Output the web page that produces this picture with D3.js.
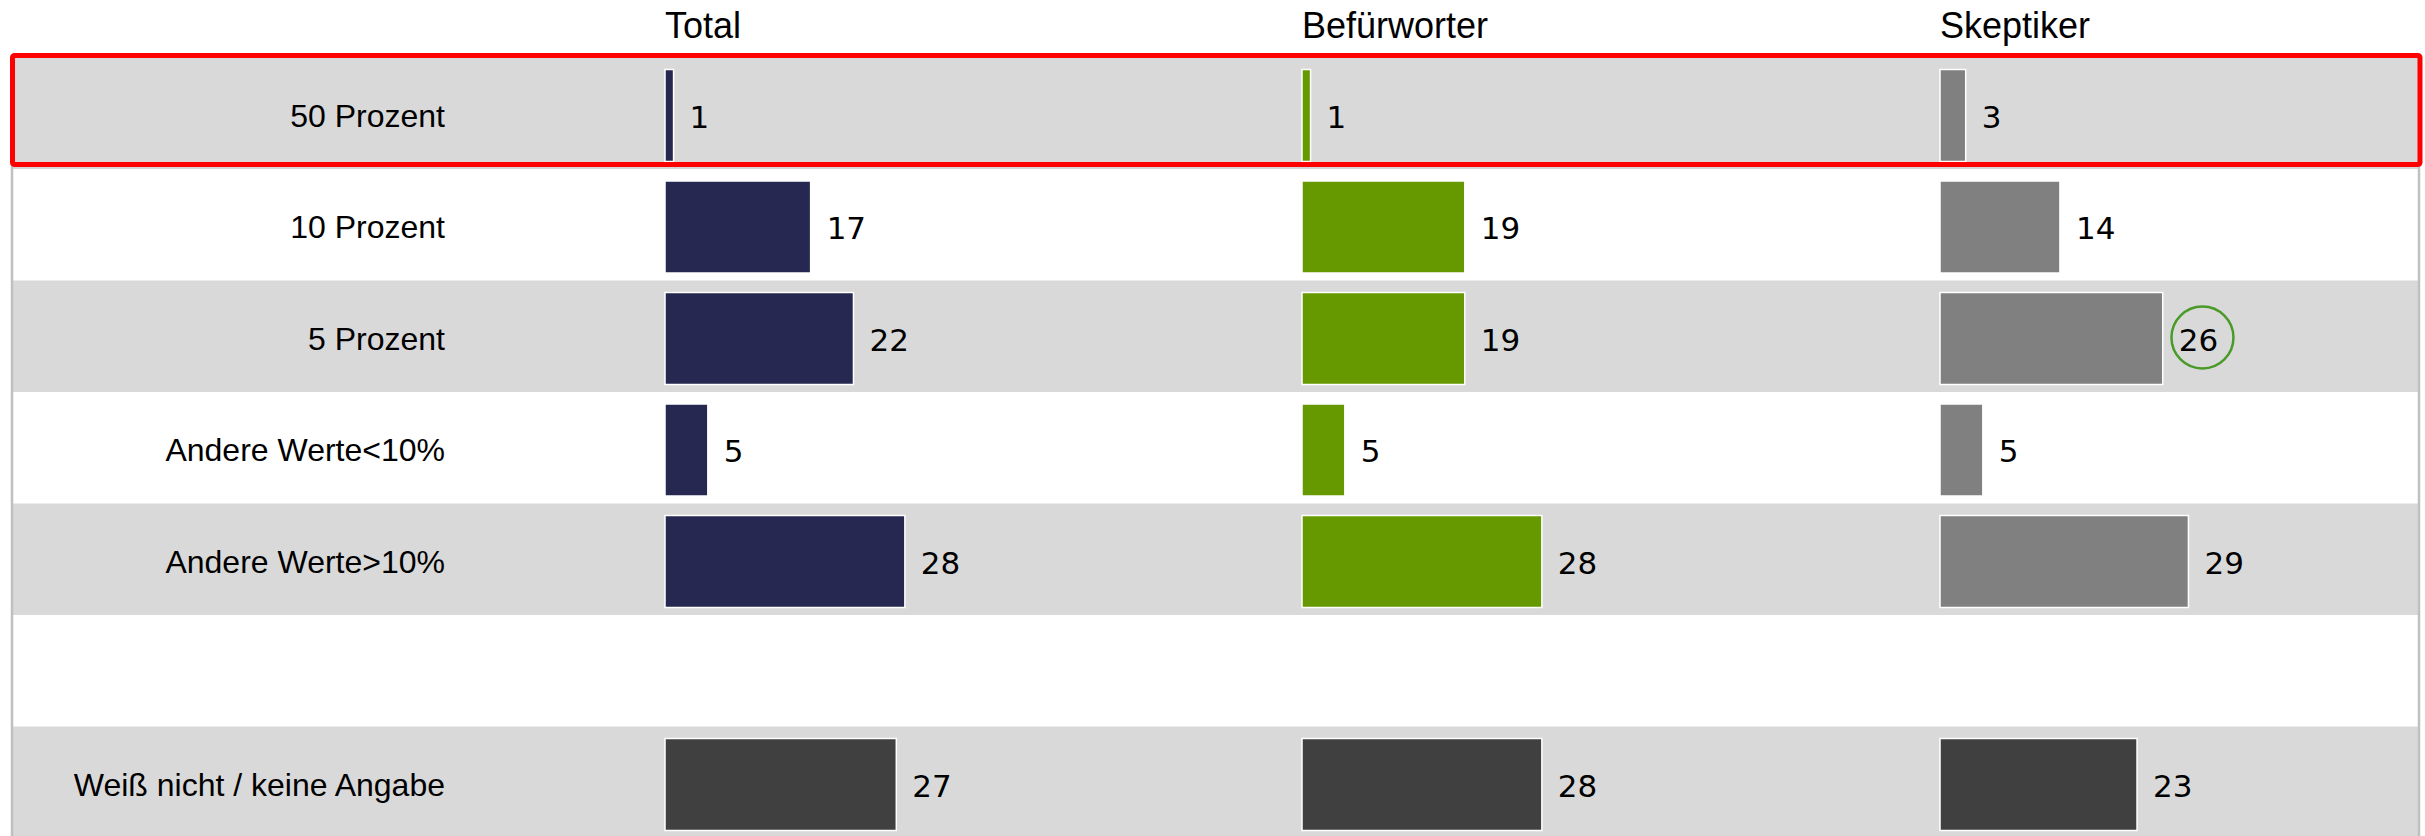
<!DOCTYPE html>
<html>
<head>
<meta charset="utf-8">
<script src="https://cdn.jsdelivr.net/npm/d3@7"></script>
<style>
  body { margin: 0; background: #fff; }
  svg { display: block; }
</style>
</head>
<body>
<div class="chart-container"></div>
<script>
const width = 2425;
const height = 836;

// daten
const kategorien = ["50 Prozent", "10 Prozent", "5 Prozent", "Andere Werte<10%", "Andere Werte>10%", "", "Weiß nicht / keine Angabe"];
const gruppen = ["Total", "Befürworter", "Skeptiker"];
const werteTotal = [1, 17, 22, 5, 28, null, 27];
const werteBefuerworter = [1, 19, 19, 5, 28, null, 28];
const werteSkeptiker = [3, 14, 26, 5, 29, null, 23];
const markiert = { gruppe: "Skeptiker", kategorie: "5 Prozent" };

const farben = {
    "Total": "#262851",
    "Befürworter": "#669900",
    "Skeptiker": "#808080",
};
const farbeWeissNicht = "#404040";

const werte = {
    "Total": werteTotal,
    "Befürworter": werteBefuerworter,
    "Skeptiker": werteSkeptiker,
};

const svg = d3.select(".chart-container")
              .append("svg")
              .attr("width", width)
              .attr("height", height);

const escalaY = d3.scaleBand()
                  .domain(kategorien)
                  .range([57.5, 57.5 + 7 * 111.5]);

const escalaGruppe = d3.scaleOrdinal()
                       .domain(gruppen)
                       .range([665, 1302, 1940]);

const escalaX = d3.scaleLinear()
                  .domain([0, 30])
                  .range([0, 257]);

// zeilen hintergrund
svg.append("g")
   .selectAll("rect")
   .data(kategorien)
   .join("rect")
   .attr("x", 12)
   .attr("y", (d) => escalaY(d))
   .attr("width", 2408)
   .attr("height", escalaY.bandwidth())
   .attr("fill", (d, i) => i % 2 === 0 ? "#d9d9d9" : "#ffffff");

// rahmen
const rahmen = svg.append("g")
rahmen.append("line")
      .attr("x1", 12).attr("x2", 12)
      .attr("y1", 160).attr("y2", height)
      .attr("stroke", "#c0c0c0").attr("stroke-width", 2.5);
rahmen.append("line")
      .attr("x1", 2419).attr("x2", 2419)
      .attr("y1", 160).attr("y2", height)
      .attr("stroke", "#c0c0c0").attr("stroke-width", 2.5);
rahmen.append("line")
      .attr("x1", 12).attr("x2", 2420)
      .attr("y1", 168).attr("y2", 168)
      .attr("stroke", "#d0d0d0").attr("stroke-width", 1);

// kopfzeile
svg.append("g")
   .selectAll("text")
   .data(gruppen)
   .join("text")
   .attr("x", (d) => escalaGruppe(d))
   .attr("y", 37.5)
   .attr("font-family", "'Liberation Sans', Arial, sans-serif")
   .attr("font-size", 36)
   .attr("fill", "#000")
   .text((d) => d);

// zeilen beschriftung
svg.append("g")
   .selectAll("text")
   .data(kategorien.filter((d) => d !== ""))
   .join("text")
   .attr("x", 445)
   .attr("y", (d) => escalaY(d) + 58 + 11)
   .attr("text-anchor", "end")
   .attr("font-family", "'Liberation Sans', Arial, sans-serif")
   .attr("font-size", 32)
   .attr("fill", "#000")
   .text((d) => d);

// balken
const balkenDaten = [];
gruppen.forEach((g) => {
    werte[g].forEach((v, i) => {
        if (v !== null) {
            balkenDaten.push({ gruppe: g, kategorie: kategorien[i], wert: v, index: i });
        }
    });
});

const balken = svg.append("g");

balken.selectAll("rect")
      .data(balkenDaten)
      .join("rect")
      .attr("x", (d) => escalaGruppe(d.gruppe))
      .attr("y", (d) => escalaY(d.kategorie) + 12)
      .attr("width", (d) => escalaX(d.wert))
      .attr("height", 92)
      .attr("fill", (d) => d.index === 6 ? farbeWeissNicht : farben[d.gruppe])
      .attr("stroke", "#ffffff")
      .attr("stroke-width", 1.5);

const labels = balken.selectAll("text")
      .data(balkenDaten)
      .join("text")
      .attr("x", (d) => escalaGruppe(d.gruppe) + escalaX(d.wert) + 16)
      .attr("y", (d) => escalaY(d.kategorie) + 58 + 12)
      .attr("font-family", "'DejaVu Sans', Verdana, sans-serif")
      .attr("font-size", 31)
      .attr("fill", "#000")
      .text((d) => d.wert);

// markierung
labels.filter((d) => d.gruppe === markiert.gruppe && d.kategorie === markiert.kategorie)
      .each(function (d) {
          const b = this.getBBox();
          balken.append("circle")
                .attr("cx", b.x + b.width / 2 + 4)
                .attr("cy", escalaY(d.kategorie) + 57)
                .attr("r", 31)
                .attr("fill", "none")
                .attr("stroke", "#4a9a28")
                .attr("stroke-width", 2.5);
      });

// roter rahmen
svg.append("rect")
   .attr("x", 12.5)
   .attr("y", 55.5)
   .attr("width", 2407.5)
   .attr("height", 109)
   .attr("rx", 2)
   .attr("fill", "none")
   .attr("stroke", "#ff0000")
   .attr("stroke-width", 5);
</script>
</body>
</html>
